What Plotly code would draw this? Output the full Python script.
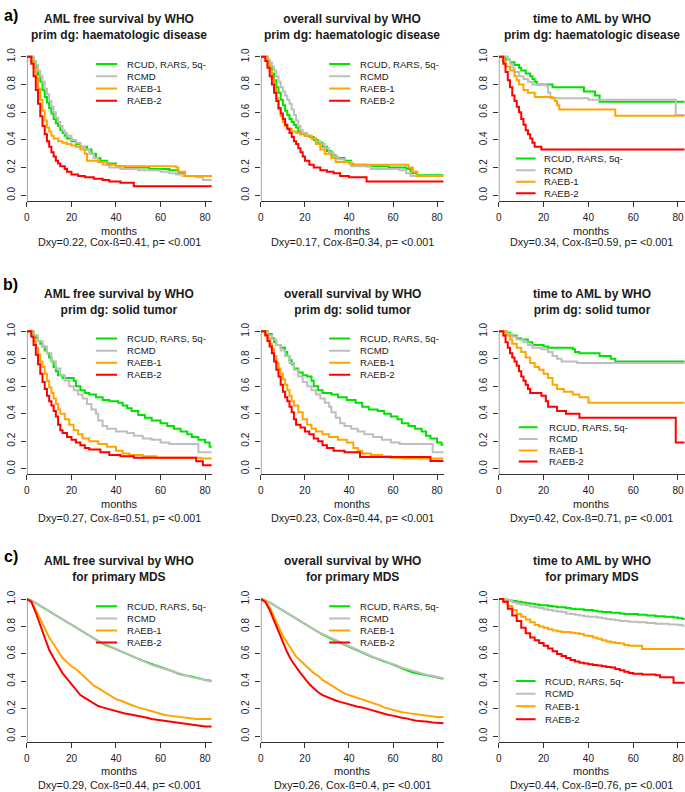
import plotly.graph_objects as go

# ---------------- data (months, survival probability) ----------------
GROUPS = ["RCUD, RARS, 5q-", "RCMD", "RAEB-1", "RAEB-2"]
COLORS = ["#00E100", "#BEBEBE", "#FFA500", "#FF0000"]
X_TICKS = [0, 20, 40, 60, 80]
Y_TICKS = [0.0, 0.2, 0.4, 0.6, 0.8, 1.0]
T_END = 83

# a) prim dg: haematologic disease
a1_rcud = [(0,1),(3,0.96),(4,0.92),(5,0.87),(6,0.82),(7,0.76),(8,0.71),(9,0.67),(10,0.63),(11,0.59),(12,0.55),(13,0.52),(14,0.50),(15,0.47),(16,0.45),(17,0.43),(18,0.41),(20,0.39),(22,0.37),(24,0.35),(27,0.33),(29,0.30),(31,0.27),(33,0.25),(36,0.23),(40,0.21),(44,0.20),(55,0.19),(64,0.18),(68,0.16),(71,0.14),(83,0.14)]
a1_rcmd = [(0,1),(3,0.97),(4,0.94),(5,0.90),(6,0.86),(7,0.82),(8,0.77),(9,0.73),(10,0.68),(11,0.64),(12,0.60),(13,0.56),(14,0.53),(15,0.50),(16,0.47),(17,0.45),(18,0.43),(20,0.40),(22,0.38),(24,0.35),(26,0.33),(28,0.30),(30,0.27),(32,0.24),(34,0.22),(37,0.20),(42,0.19),(50,0.18),(60,0.17),(64,0.16),(67,0.15),(70,0.14),(76,0.13),(79,0.11),(83,0.11)]
a1_raeb1 = [(0,1),(2,0.97),(3,0.92),(4,0.85),(5,0.77),(6,0.69),(7,0.61),(8,0.54),(9,0.49),(10,0.46),(11,0.43),(12,0.41),(14,0.39),(16,0.38),(18,0.37),(20,0.36),(22,0.35),(24,0.33),(26,0.30),(27,0.25),(32,0.24),(36,0.22),(40,0.21),(67,0.20),(68,0.17),(71,0.14),(83,0.14)]
a1_raeb2 = [(0,1),(2,0.95),(3,0.86),(4,0.76),(5,0.66),(6,0.57),(7,0.50),(8,0.44),(9,0.39),(10,0.35),(11,0.31),(12,0.28),(13,0.25),(14,0.23),(15,0.21),(17,0.19),(18,0.17),(20,0.15),(23,0.14),(26,0.13),(30,0.12),(34,0.11),(37,0.10),(42,0.09),(48,0.065),(83,0.065)]

a2_rcud = [(0,1),(3,0.97),(4,0.93),(5,0.88),(6,0.83),(7,0.78),(8,0.74),(9,0.69),(10,0.65),(11,0.61),(12,0.58),(13,0.55),(14,0.53),(15,0.51),(16,0.49),(17,0.46),(18,0.44),(20,0.43),(22,0.42),(24,0.40),(26,0.38),(28,0.35),(30,0.32),(32,0.29),(34,0.27),(38,0.25),(41,0.22),(48,0.21),(58,0.20),(66,0.19),(68,0.16),(71,0.145),(83,0.145)]
a2_rcmd = [(0,1),(3,0.98),(4,0.96),(5,0.93),(6,0.90),(7,0.86),(8,0.82),(9,0.78),(10,0.75),(11,0.72),(12,0.69),(13,0.66),(14,0.62),(15,0.58),(16,0.54),(17,0.50),(18,0.47),(19,0.45),(21,0.43),(23,0.41),(25,0.39),(27,0.37),(29,0.34),(31,0.31),(33,0.28),(35,0.26),(38,0.24),(41,0.21),(50,0.19),(63,0.18),(66,0.16),(68,0.14),(83,0.14)]
a2_raeb1 = [(0,1),(3,0.95),(4,0.90),(5,0.84),(6,0.77),(7,0.70),(8,0.62),(9,0.57),(10,0.53),(11,0.50),(12,0.48),(14,0.46),(16,0.45),(18,0.44),(20,0.43),(23,0.41),(25,0.37),(27,0.33),(29,0.30),(32,0.27),(34,0.24),(40,0.23),(42,0.22),(67,0.20),(69,0.17),(71,0.14),(83,0.14)]
a2_raeb2 = [(0,1),(2,0.97),(3,0.92),(4,0.86),(5,0.80),(6,0.74),(7,0.68),(8,0.63),(9,0.59),(10,0.55),(11,0.51),(12,0.48),(13,0.45),(14,0.42),(15,0.39),(16,0.37),(17,0.34),(18,0.31),(19,0.28),(20,0.25),(22,0.22),(24,0.20),(27,0.18),(30,0.17),(33,0.16),(36,0.14),(40,0.13),(48,0.10),(83,0.10)]

a3_rcud = [(0,1),(3,0.98),(5,0.96),(7,0.94),(9,0.92),(10,0.90),(12,0.88),(14,0.86),(15,0.84),(16,0.82),(17,0.80),(24,0.78),(38,0.75),(43,0.72),(45,0.675),(83,0.675)]
a3_rcmd = [(0,1),(4,0.98),(5,0.95),(6,0.92),(7,0.89),(9,0.86),(11,0.84),(13,0.82),(15,0.80),(21,0.79),(22,0.74),(23,0.70),(40,0.69),(78,0.69),(79,0.58),(83,0.58)]
a3_raeb1 = [(0,1),(2,0.97),(3,0.93),(5,0.90),(7,0.86),(8,0.83),(9,0.80),(11,0.76),(13,0.74),(16,0.71),(24,0.70),(25,0.68),(26,0.65),(27,0.62),(51,0.62),(52,0.575),(83,0.575)]
a3_raeb2 = [(0,1),(2,0.95),(3,0.89),(4,0.83),(5,0.78),(6,0.72),(7,0.68),(8,0.64),(9,0.60),(10,0.55),(11,0.51),(12,0.47),(13,0.44),(14,0.41),(15,0.38),(16,0.35),(19,0.33),(83,0.33)]

# b) prim dg: solid tumor
b1_rcud = [(0,1),(3,0.97),(4,0.95),(5,0.93),(6,0.91),(7,0.89),(8,0.86),(9,0.84),(10,0.81),(11,0.78),(12,0.74),(13,0.71),(14,0.68),(16,0.66),(21,0.64),(22,0.60),(24,0.57),(26,0.55),(28,0.54),(31,0.52),(34,0.50),(37,0.49),(41,0.48),(43,0.46),(45,0.44),(47,0.42),(50,0.39),(53,0.37),(56,0.35),(60,0.33),(63,0.31),(66,0.29),(69,0.27),(72,0.25),(74,0.23),(77,0.21),(80,0.19),(82,0.16),(83,0.16)]
b1_rcmd = [(0,1),(3,0.97),(5,0.93),(7,0.89),(9,0.84),(11,0.78),(13,0.73),(15,0.68),(17,0.64),(19,0.60),(21,0.57),(23,0.54),(25,0.51),(27,0.47),(29,0.43),(31,0.40),(32,0.35),(34,0.31),(36,0.29),(40,0.27),(45,0.26),(48,0.24),(52,0.22),(56,0.21),(60,0.19),(64,0.18),(77,0.12),(83,0.12)]
b1_raeb1 = [(0,1),(2,0.97),(3,0.93),(4,0.88),(5,0.83),(6,0.78),(7,0.74),(8,0.69),(9,0.64),(10,0.59),(11,0.55),(12,0.51),(13,0.47),(14,0.43),(15,0.40),(17,0.36),(19,0.32),(21,0.28),(23,0.25),(25,0.22),(28,0.20),(32,0.18),(36,0.16),(40,0.13),(43,0.11),(46,0.10),(52,0.09),(58,0.08),(78,0.075),(83,0.075)]
b1_raeb2 = [(0,1),(2,0.96),(3,0.90),(4,0.83),(5,0.76),(6,0.69),(7,0.63),(8,0.58),(9,0.53),(10,0.49),(11,0.46),(12,0.42),(13,0.38),(14,0.32),(15,0.28),(16,0.26),(18,0.23),(20,0.21),(22,0.19),(24,0.17),(26,0.15),(28,0.14),(33,0.12),(37,0.10),(42,0.09),(48,0.08),(76,0.055),(79,0.025),(83,0.025)]

b2_rcud = [(0,1),(3,0.98),(5,0.95),(6,0.92),(7,0.90),(9,0.88),(11,0.85),(12,0.82),(13,0.79),(14,0.76),(15,0.73),(17,0.70),(19,0.68),(21,0.67),(23,0.64),(24,0.60),(26,0.57),(28,0.55),(32,0.54),(35,0.52),(39,0.50),(43,0.48),(46,0.45),(49,0.43),(53,0.42),(56,0.40),(59,0.38),(62,0.36),(64,0.33),(67,0.31),(70,0.29),(73,0.27),(75,0.24),(77,0.22),(80,0.19),(82,0.175),(83,0.175)]
b2_rcmd = [(0,1),(3,0.97),(5,0.94),(7,0.90),(9,0.86),(11,0.82),(13,0.77),(15,0.72),(17,0.67),(19,0.63),(21,0.60),(23,0.57),(25,0.54),(27,0.51),(29,0.48),(31,0.45),(32,0.41),(34,0.37),(36,0.33),(38,0.31),(41,0.29),(44,0.27),(47,0.25),(51,0.23),(55,0.21),(59,0.19),(63,0.18),(78,0.12),(83,0.12)]
b2_raeb1 = [(0,1),(2,0.98),(3,0.95),(4,0.91),(5,0.87),(6,0.82),(7,0.77),(8,0.73),(9,0.69),(10,0.65),(11,0.61),(12,0.57),(13,0.53),(14,0.49),(15,0.46),(17,0.41),(19,0.36),(21,0.32),(23,0.29),(25,0.27),(28,0.25),(31,0.23),(35,0.21),(39,0.19),(42,0.15),(44,0.13),(46,0.11),(50,0.10),(55,0.09),(59,0.08),(65,0.075),(83,0.075)]
b2_raeb2 = [(0,1),(2,0.97),(3,0.93),(4,0.89),(5,0.84),(6,0.78),(7,0.72),(8,0.67),(9,0.61),(10,0.56),(11,0.52),(12,0.49),(13,0.45),(14,0.41),(15,0.36),(16,0.32),(18,0.30),(20,0.27),(22,0.25),(24,0.22),(26,0.20),(28,0.17),(30,0.15),(33,0.13),(38,0.12),(45,0.085),(77,0.056),(83,0.056)]

b3_rcud = [(0,1),(3,0.99),(5,0.97),(8,0.95),(10,0.94),(13,0.92),(15,0.90),(20,0.89),(22,0.88),(33,0.87),(34,0.85),(36,0.84),(45,0.82),(50,0.80),(52,0.78),(83,0.78)]
b3_rcmd = [(0,1),(4,0.98),(6,0.96),(8,0.94),(11,0.92),(13,0.90),(15,0.88),(19,0.87),(22,0.85),(24,0.82),(26,0.80),(28,0.78),(35,0.77),(83,0.77)]
b3_raeb1 = [(0,1),(3,0.97),(5,0.94),(6,0.91),(8,0.88),(10,0.85),(12,0.81),(14,0.77),(16,0.74),(18,0.72),(20,0.69),(22,0.66),(24,0.61),(26,0.58),(29,0.56),(33,0.54),(36,0.52),(40,0.48),(83,0.48)]
b3_raeb2 = [(0,1),(2,0.97),(3,0.92),(4,0.88),(5,0.84),(6,0.81),(7,0.78),(8,0.75),(9,0.71),(10,0.67),(11,0.64),(12,0.61),(13,0.58),(14,0.55),(19,0.53),(21,0.49),(22,0.45),(26,0.42),(30,0.40),(36,0.37),(79,0.19),(83,0.19)]

# c) primary MDS (values every 2 months, 0..82)
c_months = [0, 2, 4, 6, 8, 10, 12, 14, 16, 18, 20, 22, 24, 26, 28, 30, 32, 34, 36, 38,
            40, 42, 44, 46, 48, 50, 52, 54, 56, 58, 60, 62, 64, 66, 68, 70, 72, 74, 76, 78, 80, 82]
c1_rcud = [1.0, 0.99, 0.97, 0.95, 0.93, 0.91, 0.89, 0.87, 0.85, 0.83,
           0.81, 0.79, 0.77, 0.75, 0.73, 0.71, 0.69, 0.675, 0.66, 0.65,
           0.635, 0.62, 0.605, 0.59, 0.575, 0.56, 0.55, 0.54, 0.525, 0.515,
           0.505, 0.495, 0.48, 0.47, 0.455, 0.445, 0.44, 0.435, 0.43, 0.42, 0.41, 0.405]
c1_rcmd = [1.0, 0.99, 0.97, 0.95, 0.93, 0.91, 0.89, 0.87, 0.85, 0.83,
           0.81, 0.79, 0.77, 0.75, 0.73, 0.71, 0.695, 0.68, 0.665, 0.65,
           0.635, 0.62, 0.605, 0.59, 0.575, 0.56, 0.545, 0.535, 0.52, 0.51,
           0.50, 0.49, 0.475, 0.465, 0.455, 0.445, 0.44, 0.43, 0.425, 0.415, 0.405, 0.40]
c1_raeb1 = [1.0, 0.98, 0.92, 0.85, 0.79, 0.72, 0.67, 0.62, 0.57, 0.54,
            0.51, 0.49, 0.46, 0.43, 0.40, 0.37, 0.35, 0.33, 0.31, 0.29,
            0.27, 0.26, 0.245, 0.23, 0.22, 0.21, 0.20, 0.195, 0.185, 0.175,
            0.165, 0.155, 0.15, 0.145, 0.14, 0.135, 0.13, 0.13, 0.125, 0.125, 0.125, 0.125]
c1_raeb2 = [1.0, 0.98, 0.90, 0.81, 0.72, 0.63, 0.57, 0.51, 0.46, 0.42,
            0.38, 0.34, 0.30, 0.28, 0.26, 0.24, 0.22, 0.21, 0.20, 0.19,
            0.18, 0.175, 0.165, 0.16, 0.155, 0.15, 0.14, 0.135, 0.125, 0.12,
            0.115, 0.11, 0.105, 0.10, 0.10, 0.095, 0.09, 0.085, 0.08, 0.075, 0.07, 0.07]

c2_rcud = [1.0, 0.99, 0.975, 0.955, 0.935, 0.915, 0.895, 0.875, 0.855, 0.835,
           0.815, 0.795, 0.775, 0.755, 0.74, 0.725, 0.71, 0.695, 0.68, 0.67,
           0.655, 0.64, 0.625, 0.61, 0.595, 0.58, 0.57, 0.555, 0.545, 0.535,
           0.525, 0.51, 0.495, 0.48, 0.47, 0.46, 0.455, 0.45, 0.445, 0.44, 0.43, 0.42]
c2_rcmd = [1.0, 0.99, 0.975, 0.955, 0.935, 0.915, 0.895, 0.875, 0.855, 0.835,
           0.815, 0.795, 0.78, 0.76, 0.745, 0.73, 0.715, 0.70, 0.685, 0.67,
           0.655, 0.64, 0.625, 0.61, 0.595, 0.585, 0.57, 0.56, 0.55, 0.54,
           0.53, 0.515, 0.50, 0.49, 0.48, 0.47, 0.46, 0.45, 0.445, 0.44, 0.43, 0.42]
c2_raeb1 = [1.0, 0.99, 0.94, 0.87, 0.80, 0.73, 0.68, 0.63, 0.58, 0.55,
            0.52, 0.49, 0.46, 0.44, 0.41, 0.39, 0.37, 0.35, 0.33, 0.31,
            0.30, 0.29, 0.28, 0.265, 0.255, 0.245, 0.235, 0.225, 0.21, 0.20,
            0.19, 0.18, 0.175, 0.17, 0.165, 0.16, 0.155, 0.15, 0.145, 0.145, 0.14, 0.14]
c2_raeb2 = [1.0, 0.98, 0.92, 0.84, 0.76, 0.68, 0.61, 0.55, 0.50, 0.46,
            0.42, 0.38, 0.35, 0.32, 0.30, 0.285, 0.27, 0.26, 0.25, 0.24,
            0.235, 0.225, 0.215, 0.21, 0.20, 0.195, 0.185, 0.175, 0.165, 0.155,
            0.15, 0.14, 0.135, 0.13, 0.12, 0.115, 0.11, 0.11, 0.105, 0.10, 0.10, 0.095]

c3_rcud = [1.0, 0.995, 0.99, 0.985, 0.98, 0.975, 0.97, 0.965, 0.96, 0.955,
           0.955, 0.95, 0.945, 0.94, 0.94, 0.935, 0.93, 0.925, 0.925, 0.92,
           0.92, 0.915, 0.91, 0.905, 0.905, 0.90, 0.90, 0.895, 0.89, 0.89,
           0.89, 0.885, 0.885, 0.88, 0.88, 0.875, 0.875, 0.87, 0.87, 0.865, 0.86, 0.855]
c3_rcmd = [1.0, 0.995, 0.985, 0.975, 0.965, 0.96, 0.955, 0.945, 0.94, 0.935,
           0.925, 0.92, 0.915, 0.91, 0.905, 0.895, 0.89, 0.885, 0.88, 0.875,
           0.87, 0.87, 0.865, 0.86, 0.855, 0.85, 0.845, 0.84, 0.84, 0.835,
           0.835, 0.83, 0.83, 0.825, 0.825, 0.82, 0.82, 0.82, 0.815, 0.815, 0.81, 0.805]
c3_raeb1 = [1.0, 0.98, 0.95, 0.92, 0.89, 0.87, 0.85, 0.83, 0.81, 0.80,
            0.79, 0.78, 0.77, 0.765, 0.76, 0.76, 0.755, 0.75, 0.745, 0.735,
            0.73, 0.72, 0.71, 0.70, 0.69, 0.685, 0.68, 0.675, 0.665, 0.66,
            0.66, 0.66, 0.635, 0.635, 0.635, 0.635, 0.635, 0.635, 0.635, 0.635, 0.635, 0.635]
c3_raeb2 = [1.0, 0.98, 0.93, 0.88, 0.84, 0.79, 0.75, 0.72, 0.70, 0.68,
            0.66, 0.64, 0.62, 0.60, 0.585, 0.57, 0.555, 0.545, 0.535, 0.53,
            0.525, 0.52, 0.515, 0.51, 0.505, 0.50, 0.49, 0.48, 0.47, 0.46,
            0.455, 0.455, 0.45, 0.45, 0.45, 0.445, 0.43, 0.43, 0.43, 0.39, 0.39, 0.39]

TITLES = [
    "AML free survival by WHO<br>prim dg: haematologic disease",
    "overall survival by WHO<br>prim dg: haematologic disease",
    "time to AML by WHO<br>prim dg: haematologic disease",
    "AML free survival by WHO<br>prim dg: solid tumor",
    "overall survival by WHO<br>prim dg: solid tumor",
    "time to AML by WHO<br>prim dg: solid tumor",
    "AML free survival by WHO<br>for primary MDS",
    "overall survival by WHO<br>for primary MDS",
    "time to AML by WHO<br>for primary MDS",
]
STATS = [
    "Dxy=0.22, Cox-ß=0.41, p= <0.001",
    "Dxy=0.17, Cox-ß=0.34, p= <0.001",
    "Dxy=0.34, Cox-ß=0.59, p= <0.001",
    "Dxy=0.27, Cox-ß=0.51, p= <0.001",
    "Dxy=0.23, Cox-ß=0.44, p= <0.001",
    "Dxy=0.42, Cox-ß=0.71, p= <0.001",
    "Dxy=0.29, Cox-ß=0.44, p= <0.001",
    "Dxy=0.26, Cox-ß=0.4, p= <0.001",
    "Dxy=0.44, Cox-ß=0.76, p= <0.001",
]
ROW_LABELS = ["a)", "b)", "c)"]


def grid(vals):
    return list(zip(c_months, vals)) + [(T_END, vals[-1])]


CURVES = [
    [a1_rcud, a1_rcmd, a1_raeb1, a1_raeb2],
    [a2_rcud, a2_rcmd, a2_raeb1, a2_raeb2],
    [a3_rcud, a3_rcmd, a3_raeb1, a3_raeb2],
    [b1_rcud, b1_rcmd, b1_raeb1, b1_raeb2],
    [b2_rcud, b2_rcmd, b2_raeb1, b2_raeb2],
    [b3_rcud, b3_rcmd, b3_raeb1, b3_raeb2],
    [grid(c1_rcud), grid(c1_rcmd), grid(c1_raeb1), grid(c1_raeb2)],
    [grid(c2_rcud), grid(c2_rcmd), grid(c2_raeb1), grid(c2_raeb2)],
    [grid(c3_rcud), grid(c3_rcmd), grid(c3_raeb1), grid(c3_raeb2)],
]
# large cohorts with steep early decline (c1, c2) drawn as fine polylines
LINE_SHAPES = ["hv"] * 6 + ["linear", "linear", "hv"]

# ---------------- layout (pixels) ----------------
W, H = 685, 792
COL_X = [(24, 209.7), (259, 442.6), (498, 684.7)]
ROW_Y = [(48.4, 198.6), (324.0, 473.0), (592.8, 741.5)]
ROW_TITLE_Y = [24.5, 300.5, 568.5]
ROW_MONTHS_Y = [229, 503, 771]
ROW_STATS_Y = [240, 516.5, 785]
ROW_LABEL_Y = [13, 283, 556]
# legend placement per panel: (line x0, line x1, text x, [y of the 4 rows]) in data units
LEG_TOP = (31.0, 40.5, 44.0, [0.947, 0.859, 0.771, 0.683])
LEGENDS = [
    LEG_TOP, LEG_TOP, (7.6, 16.4, 19.1, [0.266, 0.181, 0.097, 0.014]),
    LEG_TOP, LEG_TOP, (8.9, 17.3, 21.3, [0.302, 0.217, 0.133, 0.053]),
    LEG_TOP, LEG_TOP, (7.6, 16.4, 19.6, [0.402, 0.310, 0.218, 0.123]),
]

FONT = "Liberation Sans, Arial, Helvetica, sans-serif"
AX = "#333333"
TXT = "#1a1a1a"

fig = go.Figure()
shapes, annotations = [], []
layout = {}

for i in range(9):
    r, c = divmod(i, 3)
    s = "" if i == 0 else str(i + 1)
    xa, ya = "x" + s, "y" + s
    for curve, color in zip(CURVES[i], COLORS):
        fig.add_trace(go.Scatter(
            x=[p[0] for p in curve], y=[p[1] for p in curve], mode="lines",
            line=dict(color=color, width=2, shape=LINE_SHAPES[i]),
            xaxis=xa, yaxis=ya, showlegend=False, hoverinfo="skip"))
    x0, x1 = COL_X[c]
    yt, yb = ROW_Y[r]
    layout["xaxis" + s] = dict(
        domain=[x0 / W, x1 / W], range=[0, T_END], anchor=ya,
        showgrid=False, zeroline=False, showline=True, linecolor=AX, linewidth=1,
        ticks="outside", ticklen=5, tickwidth=1, tickcolor=AX, tickvals=X_TICKS,
        tickfont=dict(family=FONT, size=10, color=TXT), ticklabelstandoff=2)
    layout["yaxis" + s] = dict(
        domain=[1 - yb / H, 1 - yt / H], range=[-0.04, 1.04], anchor=xa,
        showgrid=False, zeroline=False, showline=False,
        ticks="outside", ticklen=5, tickwidth=1, tickcolor=AX,
        tickvals=Y_TICKS, tickformat=".1f", tickangle=-90,
        tickfont=dict(family=FONT, size=10, color=TXT), ticklabelstandoff=2)
    shapes.append(dict(type="line", xref=xa, yref=ya, x0=0, x1=0, y0=-0.04, y1=1.0,
                       line=dict(color=AX, width=1)))
    xc = (x0 + x1) / 2 / W
    annotations.append(dict(text="<b>" + TITLES[i].replace("<br>", "</b><br><b>") + "</b>",
                            x=xc, y=1 - ROW_TITLE_Y[r] / H, xref="paper", yref="paper",
                            xanchor="center", yanchor="middle", showarrow=False,
                            font=dict(family=FONT, size=12, color=TXT)))
    annotations.append(dict(text="months", x=xc, y=1 - ROW_MONTHS_Y[r] / H,
                            xref="paper", yref="paper", xanchor="center", yanchor="middle",
                            showarrow=False, font=dict(family=FONT, size=11, color=TXT)))
    annotations.append(dict(text=STATS[i], x=xc, y=1 - ROW_STATS_Y[r] / H,
                            xref="paper", yref="paper", xanchor="center", yanchor="middle",
                            showarrow=False, font=dict(family=FONT, size=10.8, color=TXT)))
    lx0, lx1, tx, rows = LEGENDS[i]
    for name, color, yy in zip(GROUPS, COLORS, rows):
        shapes.append(dict(type="line", xref=xa, yref=ya, x0=lx0, x1=lx1, y0=yy, y1=yy,
                           line=dict(color=color, width=2)))
        annotations.append(dict(text=name, x=tx, y=yy, xref=xa, yref=ya,
                                xanchor="left", yanchor="middle", showarrow=False,
                                font=dict(family=FONT, size=9.6, color=TXT)))

for r in range(3):
    annotations.append(dict(text="<b>" + ROW_LABELS[r] + "</b>", x=8 / W, y=1 - ROW_LABEL_Y[r] / H,
                            xref="paper", yref="paper", xanchor="center", yanchor="middle",
                            showarrow=False, font=dict(family=FONT, size=16, color="#000")))

fig.update_layout(
    width=W, height=H, autosize=False,
    margin=dict(l=0, r=0, t=0, b=0),
    paper_bgcolor="white", plot_bgcolor="white",
    shapes=shapes, annotations=annotations, **layout)

fig.write_html("out.html", config={"displayModeBar": False},
               post_script="document.body.style.margin='0';")
